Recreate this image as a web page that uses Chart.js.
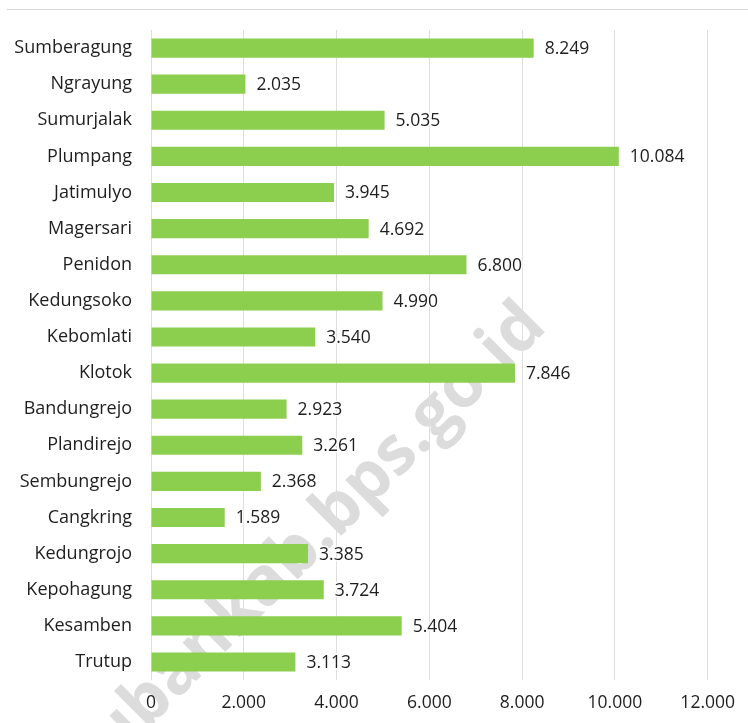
<!DOCTYPE html>
<html>
<head>
<meta charset="utf-8">
<script src="https://cdn.jsdelivr.net/npm/chart.js@4"></script>
<style>
  html, body { margin: 0; padding: 0; background: #fff; }
  #wrap { position: relative; width: 748px; height: 723px; }
  #topLine { position: absolute; left: 7px; right: 0; top: 9px; height: 1px; background: #d6d6d6; }
</style>
</head>
<body>
<div id="wrap">
  <div id="topLine"></div>
  <canvas id="myChart" width="748" height="723"></canvas>
</div>
<script>
const DESA = [
  'Sumberagung', 'Ngrayung', 'Sumurjalak', 'Plumpang', 'Jatimulyo', 'Magersari',
  'Penidon', 'Kedungsoko', 'Kebomlati', 'Klotok', 'Bandungrejo', 'Plandirejo',
  'Sembungrejo', 'Cangkring', 'Kedungrojo', 'Kepohagung', 'Kesamben', 'Trutup'
];
const JUMLAH = [
  8249, 2035, 5035, 10084, 3945, 4692,
  6800, 4990, 3540, 7846, 2923, 3261,
  2368, 1589, 3385, 3724, 5404, 3113
];
const X_TICKS = [0, 2000, 4000, 6000, 8000, 10000, 12000];
const WATERMARK = 'tubankab.bps.go.id';

const FONT = '"Open Sans", "DejaVu Sans", sans-serif';
const TEXT_COLOR = '#1e1e1e';
const BAR_COLOR = '#8ccf4f';

// 12.345 style (dot as thousands separator)
function formatNumber(n) {
  return String(n).replace(/\B(?=(\d{3})+(?!\d))/g, '.');
}

const valueLabels = {
  id: 'valueLabels',
  afterDatasetsDraw(chart) {
    const ctx = chart.ctx;
    const meta = chart.getDatasetMeta(0);
    ctx.save();
    ctx.font = '17.5px ' + FONT;
    ctx.textAlign = 'left';
    ctx.textBaseline = 'middle';
    ctx.lineJoin = 'round';
    meta.data.forEach((bar, i) => {
      const txt = formatNumber(JUMLAH[i]);
      ctx.strokeStyle = '#fff';
      ctx.lineWidth = 3;
      ctx.strokeText(txt, bar.x + 11, bar.y + 1);
      ctx.fillStyle = TEXT_COLOR;
      ctx.fillText(txt, bar.x + 11, bar.y + 1);
    });
    ctx.restore();
  }
};

// watermark goes first, so ticks, grid and bars sit on top of it
const watermark = {
  id: 'watermark',
  beforeDraw(chart) {
    const ctx = chart.ctx;
    ctx.save();
    ctx.translate(308, 542);
    ctx.rotate(-Math.PI / 4);
    ctx.font = 'bold 67px ' + FONT;
    ctx.fillStyle = '#dcdcdc';
    ctx.textAlign = 'center';
    ctx.textBaseline = 'middle';
    ctx.fillText(WATERMARK, 0, 0);
    ctx.restore();
  }
};

const config = {
  type: 'bar',
  data: {
    labels: DESA,
    datasets: [{
      data: JUMLAH,
      backgroundColor: BAR_COLOR,
      borderWidth: 0,
      barPercentage: 0.53,
      categoryPercentage: 1
    }]
  },
  options: {
    indexAxis: 'y',
    responsive: false,
    animation: false,
    layout: { padding: { top: 30, right: 38, left: 0, bottom: 0 } },
    plugins: {
      legend: { display: false },
      tooltip: { enabled: false }
    },
    scales: {
      x: {
        min: 0,
        max: 12000,
        afterBuildTicks(scale) {
          scale.ticks = X_TICKS.map((v) => ({ value: v }));
        },
        afterFit(scale) { scale.height = 43; },
        grid: { color: '#dedede', lineWidth: 1, drawTicks: false },
        border: { display: false },
        ticks: {
          padding: 13,
          color: TEXT_COLOR,
          font: { family: FONT, size: 17.5 },
          callback: (v) => formatNumber(v)
        }
      },
      y: {
        afterFit(scale) { scale.width = 151; },
        grid: { display: false, drawTicks: false },
        border: { display: false },
        ticks: {
          padding: 19,
          color: TEXT_COLOR,
          font: { family: FONT, size: 18 }
        }
      }
    }
  },
  plugins: [valueLabels, watermark]
};

const myChart = new Chart(document.querySelector('#myChart'), config);
</script>
</body>
</html>
